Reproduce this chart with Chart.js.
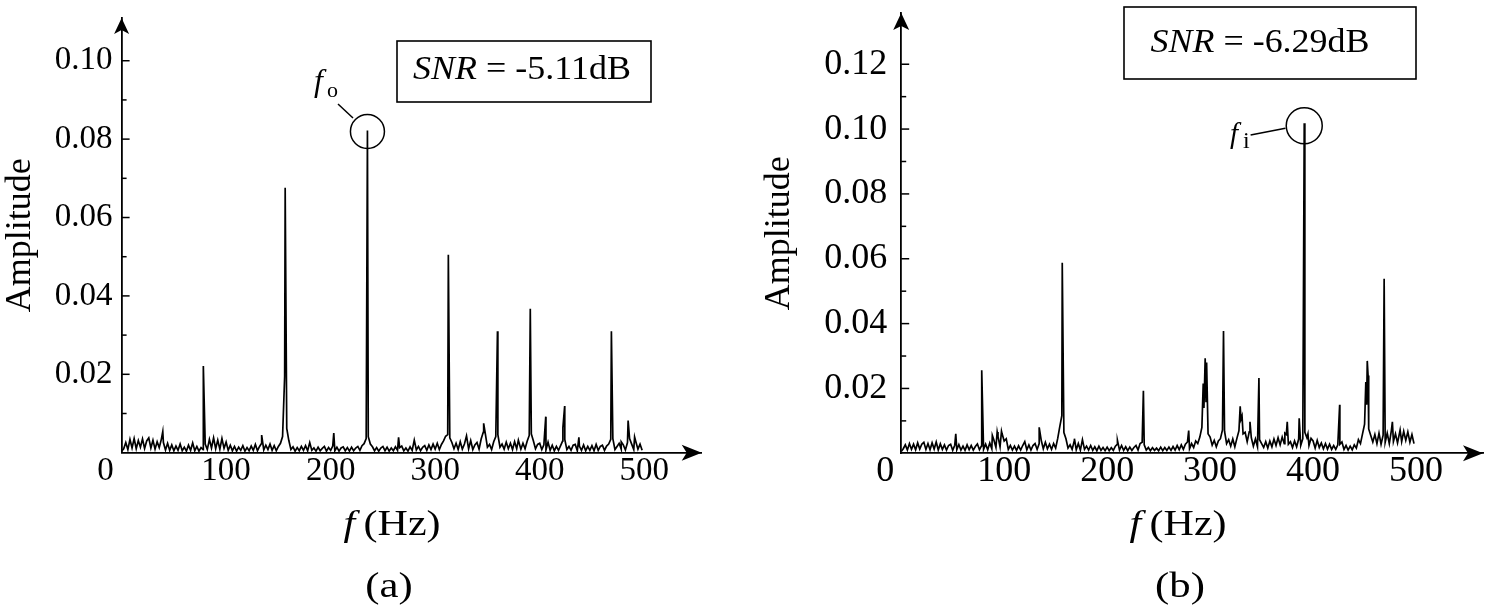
<!DOCTYPE html>
<html><head><meta charset="utf-8">
<script src="https://cdn.jsdelivr.net/npm/chart.js@4.4.1/dist/chart.umd.min.js"></script>
<style>
html,body{margin:0;padding:0;background:#fff;width:1492px;height:616px;overflow:hidden;}
canvas{position:absolute;top:0;}
#ca{left:0}
#cb{left:746px}
</style></head><body>
<canvas id="ca" width="746" height="616"></canvas>
<canvas id="cb" width="746" height="616"></canvas>
<script>
// ---------------- data ----------------
const NOISE_STEP_HZ = 2;          // noise floor sampled every 2 Hz, from 0 Hz
const xTicksHz = [0, 100, 200, 300, 400, 500];

// (a) background spectrum (amplitude every 2 Hz, 0..498 Hz)
const noiseA = [
.0004,.0010,.0026,.0008,.0034,.0012,.0036,.0010,.0031,.0014,
.0035,.0011,.0030,.0038,.0012,.0032,.0009,.0028,.0013,.0034,
.0026,.0007,.0024,.0006,.0020,.0005,.0017,.0006,.0022,.0005,
.0014,.0004,.0019,.0006,.0025,.0005,.0016,.0004,.0013,.0008,
.0022,.0008,.0034,.0012,.0038,.0010,.0032,.0009,.0036,.0011,
.0027,.0006,.0019,.0005,.0016,.0004,.0014,.0006,.0018,.0004,
.0013,.0005,.0017,.0006,.0021,.0005,.0016,.0024,.0007,.0019,
.0008,.0022,.0006,.0018,.0005,.0016,.0024,.0041,.0195,.0062,
.0031,.0008,.0015,.0004,.0013,.0005,.0016,.0006,.0018,.0005,
.0026,.0006,.0012,.0004,.0014,.0005,.0011,.0016,.0004,.0013,
.0006,.0017,.0005,.0014,.0004,.0012,.0015,.0005,.0013,.0004,
.0014,.0005,.0012,.0016,.0006,.0018,.0023,.0036,.0041,.0022,
.0015,.0005,.0013,.0004,.0012,.0016,.0005,.0014,.0004,.0012,
.0005,.0015,.0006,.0013,.0017,.0005,.0012,.0004,.0015,.0006,
.0032,.0007,.0016,.0005,.0014,.0018,.0006,.0020,.0008,.0022,
.0009,.0024,.0008,.0021,.0030,.0042,.0046,.0038,.0026,.0010,
.0024,.0008,.0028,.0009,.0022,.0043,.0010,.0031,.0008,.0020,
.0026,.0009,.0035,.0052,.0048,.0014,.0021,.0008,.0028,.0041,
.0046,.0014,.0022,.0009,.0027,.0010,.0024,.0008,.0028,.0010,
.0032,.0009,.0024,.0010,.0029,.0044,.0048,.0030,.0010,.0021,
.0024,.0008,.0020,.0007,.0027,.0006,.0019,.0005,.0016,.0006,
.0018,.0030,.0034,.0008,.0016,.0006,.0019,.0021,.0005,.0017,
.0006,.0020,.0005,.0016,.0006,.0018,.0005,.0021,.0006,.0016,
.0019,.0006,.0017,.0022,.0034,.0036,.0008,.0016,.0024,.0009,
.0020,.0007,.0026,.0036,.0022,.0008,.0028,.0009,.0022,.0006
];
// (a) spectral lines
const peakFreqA = [39.4, 78.2, 134, 156.5, 203, 235.2, 265, 280.6, 312.6, 346.4, 359.6, 379.6, 391, 405.8, 422.2, 423.9, 437.5, 468.6, 478, 484.6, 490.8];
const peakAmpA  = [.0054, .0221, .0045, .0676, .0050, .0822, .0039, .0032, .0505, .0075, .0310, .0032, .0367, .0092, .0064, .0119, .0039, .0310, .0028, .0082, .0040];

// (b) background spectrum (amplitude every 2 Hz, 0..498 Hz)
const noiseB = [
.0006,.0014,.0026,.0010,.0030,.0012,.0028,.0011,.0032,.0013,
.0028,.0034,.0012,.0030,.0011,.0032,.0013,.0035,.0010,.0029,
.0012,.0026,.0010,.0024,.0028,.0009,.0025,.0011,.0027,.0010,
.0022,.0009,.0026,.0011,.0024,.0010,.0021,.0029,.0011,.0023,
.0012,.0028,.0011,.0032,.0014,.0041,.0018,.0052,.0020,.0060,
.0038,.0045,.0012,.0024,.0010,.0022,.0009,.0023,.0010,.0024,
.0036,.0011,.0026,.0010,.0024,.0030,.0012,.0030,.0040,.0014,
.0034,.0014,.0028,.0012,.0030,.0016,.0046,.0082,.0116,.0064,
.0045,.0016,.0026,.0012,.0038,.0011,.0030,.0010,.0042,.0012,
.0022,.0010,.0024,.0009,.0020,.0008,.0022,.0009,.0018,.0008,
.0019,.0008,.0017,.0009,.0022,.0028,.0010,.0024,.0009,.0020,
.0008,.0019,.0009,.0018,.0024,.0010,.0030,.0034,.0026,.0010,
.0018,.0008,.0017,.0009,.0016,.0008,.0019,.0008,.0018,.0009,
.0019,.0009,.0021,.0010,.0024,.0011,.0026,.0012,.0028,.0035,
.0014,.0030,.0018,.0038,.0030,.0050,.0080,.0140,.0160,.0060,
.0050,.0025,.0040,.0020,.0038,.0045,.0072,.0068,.0030,.0042,
.0022,.0044,.0020,.0046,.0070,.0105,.0060,.0065,.0036,.0066,
.0048,.0022,.0044,.0020,.0042,.0030,.0018,.0036,.0016,.0038,
.0020,.0044,.0024,.0048,.0026,.0050,.0030,.0058,.0028,.0036,
.0018,.0038,.0020,.0044,.0024,.0045,.0065,.0048,.0024,.0046,
.0038,.0016,.0040,.0018,.0032,.0014,.0030,.0013,.0028,.0012,
.0024,.0012,.0026,.0028,.0035,.0012,.0024,.0010,.0022,.0011,
.0026,.0016,.0042,.0030,.0060,.0090,.0150,.0075,.0055,.0035,
.0058,.0030,.0062,.0028,.0056,.0034,.0062,.0030,.0070,.0036,
.0060,.0032,.0064,.0036,.0068,.0040,.0066,.0034,.0058,.0030
];
// (b) spectral lines
const peakFreqB = [53, 78.2, 88.5, 93.2, 97.4, 134, 156.4, 168.2, 210, 235.2, 279.2, 293.3, 295.2, 296.6, 313, 329.2, 331, 338.7, 347.4, 372.6, 374.9, 386.5, 391.4, 395, 425.8, 451.2, 452.6, 453.4, 469, 477, 484.5];
const peakAmpB  = [.0060, .0256, .0055, .0066, .0068, .0080, .0588, .0045, .0040, .0193, .0070, .0215, .0293, .0280, .0377, .0145, .0115, .0097, .0232, .0062, .0097, .0108, .1018, .0060, .0150, .0220, .0285, .0240, .0538, .0097, .0072];

// axis ticks
const yLabelsA    = [0.02, 0.04, 0.06, 0.08, 0.10];
const yTickMarksA = [0.01, 0.02, 0.03, 0.04, 0.05, 0.06, 0.07, 0.08, 0.09, 0.10];
const yLabelsB    = [0.02, 0.04, 0.06, 0.08, 0.10, 0.12];
const yTickMarksB = [0.01, 0.02, 0.03, 0.04, 0.05, 0.06, 0.07, 0.08, 0.09, 0.10, 0.11, 0.12];

// texts
const yTitle = 'Amplitude';
const xTitleItalic = 'f', xTitleRest = '\u2009(Hz)';
const snrLabel = 'SNR';
const snrValueA = ' = -5.11dB', snrValueB = ' = -6.29dB';
const markLabelA = ['f', 'o'], markLabelB = ['f', 'i'];
const panelLabelA = '(a)', panelLabelB = '(b)';

// ---------------- layout / style ----------------
const FONT = "'Liberation Serif', 'Times New Roman', Times, serif";
Chart.defaults.font.family = FONT;
Chart.defaults.color = '#000';

const panelA = {
  canvas: 'ca', W: 746, H: 616,
  area: {left: 121.6, right: 701.7, top: 18, bottom: 452.7},
  xMax: 555, yMax: 0.1109,
  noise: noiseA, pf: peakFreqA, pa: peakAmpA, yLabels: yLabelsA, yTickMarks: yTickMarksA,
  tickSize: 33, xTickPad: 2, yTickPad: 9, yTitlePad: 3,
  arrowW: 7.5, arrowL: 16, arrowW2: 8, arrowL2: 20,
  zeroDX: -16,
  snrBox: {x: 397, y: 41, w: 254, h: 61}, snrCenter: [522, 70], snrValue: snrValueA,
  circleR: 17, circleDY: 1,
  leader: [[338, 104], [353, 118]],
  mark: markLabelA, markF: {x: 314, y: 91, size: 32}, markSub: {x: 327, y: 97, size: 22},
  xTitleCenter: [392, 526], panelLabel: panelLabelA, panelCenter: [389, 588]
};
const panelB = {
  canvas: 'cb', W: 746, H: 616,
  area: {left: 155.2, right: 737, top: 13, bottom: 453.3},
  xMax: 565, yMax: 0.1358,
  noise: noiseB, pf: peakFreqB, pa: peakAmpB, yLabels: yLabelsB, yTickMarks: yTickMarksB,
  tickSize: 36, xTickPad: 0, yTickPad: 14, yTitlePad: 16,
  arrowW: 8, arrowL: 17, arrowW2: 8, arrowL2: 20,
  zeroDX: -16,
  snrBox: {x: 378, y: 7, w: 292, h: 72}, snrCenter: [514, 43], snrValue: snrValueB,
  circleR: 18, circleDY: 2.5,
  leader: [[504.6, 135], [539.4, 128.3]],
  mark: markLabelB, markF: {x: 484, y: 143, size: 29}, markSub: {x: 497, y: 148, size: 24},
  xTitleCenter: [432, 526], panelLabel: panelLabelB, panelCenter: [434, 588]
};

function buildSeries(noise, pf, pa) {
  const pts = noise.map((y, i) => ({x: i * NOISE_STEP_HZ, y}));
  pf.forEach((f, i) => pts.push({x: f, y: pa[i]}));
  pts.sort((a, b) => a.x - b.x);
  return pts;
}

function drawRuns(ctx, runs, cx, cy, sx) {
  let total = 0;
  runs.forEach(r => { ctx.font = r.font; r.w = ctx.measureText(r.text).width; total += r.w; });
  ctx.save();
  ctx.translate(cx, cy); ctx.scale(sx, 1);
  ctx.textBaseline = 'middle'; ctx.textAlign = 'left';
  let x = -total / 2;
  runs.forEach(r => { ctx.font = r.font; ctx.fillText(r.text, x, 0); x += r.w; });
  ctx.restore();
}

function figPlugin(p) {
  return {
    id: 'fig_' + p.canvas,
    afterDraw(chart) {
      const ctx = chart.ctx, xs = chart.scales.x, ys = chart.scales.y, A = chart.chartArea;
      ctx.save();
      ctx.strokeStyle = '#000'; ctx.fillStyle = '#000';
      const x0 = xs.getPixelForValue(0), y0 = ys.getPixelForValue(0);
      // inward y tick marks
      ctx.lineWidth = 1.5;
      p.yTickMarks.forEach(v => {
        const py = ys.getPixelForValue(v);
        const major = p.yLabels.some(l => Math.abs(l - v) < 1e-9);
        ctx.beginPath(); ctx.moveTo(x0, py); ctx.lineTo(x0 + (major ? 8 : 5), py); ctx.stroke();
      });
      // axis arrows
      ctx.beginPath();
      ctx.moveTo(x0, A.top);
      ctx.lineTo(x0 + p.arrowW, A.top + p.arrowL);
      ctx.lineTo(x0, A.top + p.arrowL - 4);
      ctx.lineTo(x0 - p.arrowW, A.top + p.arrowL);
      ctx.closePath(); ctx.fill();
      ctx.beginPath();
      ctx.moveTo(A.right, y0);
      ctx.lineTo(A.right - p.arrowL2, y0 - p.arrowW2);
      ctx.lineTo(A.right - p.arrowL2 + 5, y0);
      ctx.lineTo(A.right - p.arrowL2, y0 + p.arrowW2);
      ctx.closePath(); ctx.fill();
      // origin label "0"
      ctx.font = p.tickSize + 'px ' + FONT;
      ctx.textAlign = 'center'; ctx.textBaseline = 'middle';
      ctx.fillText('0', x0 + p.zeroDX, y0 + p.xTickPad + p.tickSize / 2);
      // circled main line
      let im = 0;
      p.pa.forEach((a, i) => { if (a > p.pa[im]) im = i; });
      const cx = xs.getPixelForValue(p.pf[im]), cy = ys.getPixelForValue(p.pa[im]) + p.circleDY;
      ctx.lineWidth = 1.5;
      ctx.beginPath(); ctx.arc(cx, cy, p.circleR, 0, Math.PI * 2); ctx.stroke();
      ctx.beginPath(); ctx.moveTo(p.leader[0][0], p.leader[0][1]); ctx.lineTo(p.leader[1][0], p.leader[1][1]); ctx.stroke();
      ctx.textAlign = 'left'; ctx.textBaseline = 'alphabetic';
      ctx.font = 'italic ' + p.markF.size + 'px ' + FONT;
      ctx.fillText(p.mark[0], p.markF.x, p.markF.y);
      ctx.font = p.markSub.size + 'px ' + FONT;
      ctx.fillText(p.mark[1], p.markSub.x, p.markSub.y);
      // SNR box
      ctx.lineWidth = 1.6;
      ctx.strokeRect(p.snrBox.x, p.snrBox.y, p.snrBox.w, p.snrBox.h);
      drawRuns(ctx, [{text: snrLabel, font: 'italic 33px ' + FONT}, {text: p.snrValue, font: '33px ' + FONT}],
               p.snrCenter[0], p.snrCenter[1], 1.09);
      // x title
      drawRuns(ctx, [{text: xTitleItalic, font: 'italic 35px ' + FONT}, {text: xTitleRest, font: '35px ' + FONT}],
               p.xTitleCenter[0], p.xTitleCenter[1], 1.2);
      // panel label
      drawRuns(ctx, [{text: p.panelLabel, font: '35px ' + FONT}], p.panelCenter[0], p.panelCenter[1], 1.22);
      ctx.restore();
    }
  };
}

function makeChart(p) {
  const data = buildSeries(p.noise, p.pf, p.pa);
  return new Chart(document.getElementById(p.canvas), {
    type: 'line',
    data: {datasets: [{data, borderColor: '#000', borderWidth: 1.7, pointRadius: 0, tension: 0, fill: false}]},
    options: {
      responsive: false, animation: false, devicePixelRatio: 1, events: [],
      layout: {padding: {left: 0, top: p.area.top, right: p.W - p.area.right, bottom: 0}},
      plugins: {legend: {display: false}, tooltip: {enabled: false}},
      scales: {
        x: {
          type: 'linear', position: 'bottom', min: 0, max: p.xMax,
          grid: {display: false, drawTicks: false},
          border: {display: true, color: '#000', width: 1.8},
          ticks: {font: {size: p.tickSize, lineHeight: 1}, padding: p.xTickPad, maxRotation: 0, autoSkip: false,
                  callback: v => (v === 0 ? '' : String(v))},
          afterBuildTicks: s => { s.ticks = xTicksHz.map(v => ({value: v})); },
          afterFit: s => { s.height = p.H - p.area.bottom; s.paddingLeft = 0; s.paddingRight = 0; }
        },
        y: {
          type: 'linear', position: 'left', min: 0, max: p.yMax,
          grid: {display: false, drawTicks: false},
          border: {display: true, color: '#000', width: 1.8},
          ticks: {font: {size: p.tickSize, lineHeight: 1}, padding: p.yTickPad, autoSkip: false,
                  callback: v => (p.yLabels.some(l => Math.abs(l - v) < 1e-9) ? v.toFixed(2) : '')},
          afterBuildTicks: s => { s.ticks = p.yTickMarks.map(v => ({value: v})); },
          title: {display: true, text: yTitle, font: {size: 36, lineHeight: 1}, padding: {top: p.yTitlePad, bottom: 0}},
          afterFit: s => { s.width = p.area.left; s.paddingTop = 0; s.paddingBottom = 0; }
        }
      }
    },
    plugins: [figPlugin(p)]
  });
}

makeChart(panelA);
makeChart(panelB);
</script>
</body></html>
